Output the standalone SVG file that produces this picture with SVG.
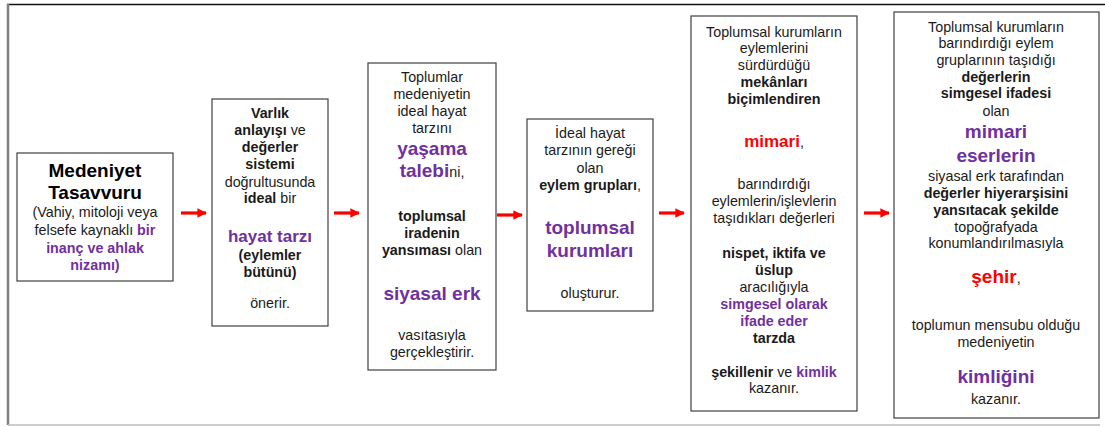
<svg xmlns="http://www.w3.org/2000/svg" width="1105" height="427" viewBox="0 0 1105 427">
<style>
text{font-family:"Liberation Sans",Arial,sans-serif;font-size:14.3px;fill:#1a1a1a;text-anchor:middle}
.b{font-weight:bold}
.p{fill:#7030A0;font-weight:bold}
.pb{font-size:19px;font-weight:bold;fill:#7030A0}
.rb{font-size:19px;font-weight:bold;fill:#FF0000}
.s17{font-size:17px}
.t{font-size:19px;font-weight:bold;fill:#000}
.box{fill:#fff;stroke:#404040;stroke-width:1.2}
.arr{stroke:#FF0000;stroke-width:3.2;fill:none}
</style>
<defs>
<marker id="ah" viewBox="0 0 10 10" refX="9" refY="5" markerWidth="3" markerHeight="3" orient="auto" markerUnits="strokeWidth">
<path d="M0,0 L10,5 L0,10 z" fill="#FF0000"/>
</marker>
</defs>
<rect width="1105" height="427" fill="#fff"/>
<g id="frame">
<line x1="7" y1="4.5" x2="1105" y2="4.5" stroke="#111" stroke-width="1.5"/>
<line x1="8" y1="4" x2="8" y2="425" stroke="#7f7f7f" stroke-width="2.5"/>
<line x1="8" y1="425" x2="1100" y2="425" stroke="#bdbdbd" stroke-width="1.5"/>
</g>
<g id="connectors">
<line class="arr" x1="181" y1="213" x2="206" y2="213" marker-end="url(#ah)"/>
<line class="arr" x1="334" y1="213" x2="359" y2="213" marker-end="url(#ah)"/>
<line class="arr" x1="497" y1="215" x2="522" y2="215" marker-end="url(#ah)"/>
<line class="arr" x1="659" y1="213" x2="684" y2="213" marker-end="url(#ah)"/>
<line class="arr" x1="864" y1="213" x2="889" y2="213" marker-end="url(#ah)"/>
</g>
<g id="n1">
<rect class="box" x="17" y="153" width="156" height="128"/>
<text class="t" x="95" y="177">Medeniyet</text>
<text class="t" x="95" y="199">Tasavvuru</text>
<text x="95" y="217">(Vahiy, mitoloji veya</text>
<text x="95" y="235">felsefe kaynaklı <tspan class="p">bir</tspan></text>
<text class="p" x="95" y="253">inanç ve ahlak</text>
<text class="p" x="95" y="270">nizamı)</text>
</g>
<g id="n2">
<rect class="box" x="212" y="99" width="116" height="227"/>
<text class="b" x="270" y="118">Varlık</text>
<text x="270" y="135"><tspan class="b">anlayışı</tspan> ve</text>
<text class="b" x="270" y="152">değerler</text>
<text class="b" x="270" y="169">sistemi</text>
<text x="270" y="187">doğrultusunda</text>
<text x="270" y="203"><tspan class="b">ideal</tspan> bir</text>
<text class="pb s17" x="270" y="242">hayat tarzı</text>
<text class="b" x="270" y="260">(eylemler</text>
<text class="b" x="270" y="277">bütünü)</text>
<text x="270" y="308">önerir.</text>
</g>
<g id="n3">
<rect class="box" x="368" y="63" width="128" height="307"/>
<text x="432" y="82">Toplumlar</text>
<text x="432" y="99">medeniyetin</text>
<text x="432" y="116">ideal hayat</text>
<text x="432" y="133">tarzını</text>
<text class="pb" x="432" y="155">yaşama</text>
<text x="432" y="177"><tspan class="pb">talebi</tspan>ni,</text>
<text class="b" x="432" y="221">toplumsal</text>
<text class="b" x="432" y="238">iradenin</text>
<text x="432" y="255"><tspan class="b">yansıması</tspan> olan</text>
<text class="pb" x="432" y="300">siyasal erk</text>
<text x="432" y="340">vasıtasıyla</text>
<text x="432" y="357">gerçekleştirir.</text>
</g>
<g id="n4">
<rect class="box" x="527" y="119" width="126" height="192"/>
<text x="590" y="138">İdeal hayat</text>
<text x="590" y="155">tarzının gereği</text>
<text x="590" y="173">olan</text>
<text x="590" y="190"><tspan class="b">eylem grupları</tspan>,</text>
<text class="pb" x="590" y="234">toplumsal</text>
<text class="pb" x="590" y="257">kurumları</text>
<text x="590" y="298">oluşturur.</text>
</g>
<g id="n5">
<rect class="box" x="691" y="16" width="166" height="395"/>
<text x="774" y="37">Toplumsal kurumların</text>
<text x="774" y="53">eylemlerini</text>
<text x="774" y="70">sürdürdüğü</text>
<text class="b" x="774" y="87">mekânları</text>
<text class="b" x="774" y="104">biçimlendiren</text>
<text x="774" y="147"><tspan class="rb s17">mimari</tspan>,</text>
<text x="774" y="189">barındırdığı</text>
<text x="774" y="206">eylemlerin/işlevlerin</text>
<text x="774" y="223">taşıdıkları değerleri</text>
<text class="b" x="774" y="258">nispet, iktifa ve</text>
<text class="b" x="774" y="275">üslup</text>
<text x="774" y="292">aracılığıyla</text>
<text class="p" x="774" y="309">simgesel olarak</text>
<text class="p" x="774" y="326">ifade eder</text>
<text class="b" x="774" y="343">tarzda</text>
<text x="774" y="377"><tspan class="b">şekillenir</tspan> ve <tspan class="p">kimlik</tspan></text>
<text x="774" y="393">kazanır.</text>
</g>
<g id="n6">
<rect class="box" x="894" y="12" width="205" height="406"/>
<text x="996" y="32">Toplumsal kurumların</text>
<text x="996" y="48">barındırdığı eylem</text>
<text x="996" y="65">gruplarının taşıdığı</text>
<text class="b" x="996" y="82">değerlerin</text>
<text class="b" x="996" y="98">simgesel ifadesi</text>
<text x="996" y="116">olan</text>
<text class="pb" x="996" y="138">mimari</text>
<text class="pb" x="996" y="162">eserlerin</text>
<text x="996" y="181">siyasal erk tarafından</text>
<text class="b" x="996" y="198">değerler hiyerarşisini</text>
<text class="b" x="996" y="215">yansıtacak şekilde</text>
<text x="996" y="232">topoğrafyada</text>
<text x="996" y="248">konumlandırılmasıyla</text>
<text x="996" y="283"><tspan class="rb">şehir</tspan>,</text>
<text x="996" y="330">toplumun mensubu olduğu</text>
<text x="996" y="347">medeniyetin</text>
<text class="pb" x="996" y="383">kimliğini</text>
<text x="996" y="404">kazanır.</text>
</g>
</svg>
